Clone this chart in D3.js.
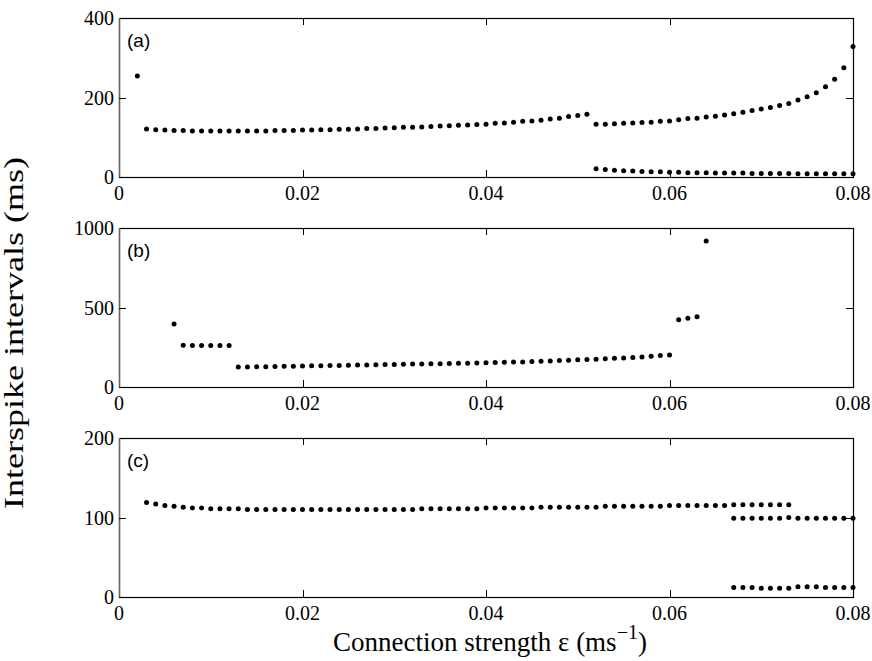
<!DOCTYPE html>
<html>
<head>
<meta charset="utf-8">
<script src="https://cdn.jsdelivr.net/npm/d3@7"></script>
<style>
  body { margin: 0; background: #fff; }
  svg { display: block; }
  .tick-label { font-family: "Liberation Serif", "Times New Roman", serif; font-size: 20px; fill: #000; }
  .axis-title { font-family: "Liberation Serif", "Times New Roman", serif; font-size: 27px; fill: #000; }
  .panel-tag { font-family: "Liberation Sans", Arial, sans-serif; font-size: 19px; fill: #000; }
</style>
</head>
<body>
<svg width="872" height="661"></svg>
<script>
"use strict";

// ---- data (eps in ms^-1, isi in ms) ----

// panel (a)
const aEps0 = [0.002];
const aIsi0 = [254];
const aEps1 = [0.003, 0.004, 0.005, 0.006, 0.007, 0.008, 0.009, 0.010, 0.011, 0.012, 0.013, 0.014, 0.015, 0.016,
  0.017, 0.018, 0.019, 0.020, 0.021, 0.022, 0.023, 0.024, 0.025, 0.026, 0.027, 0.028, 0.029, 0.030, 0.031, 0.032,
  0.033, 0.034, 0.035, 0.036, 0.037, 0.038, 0.039, 0.040, 0.041, 0.042, 0.043, 0.044, 0.045, 0.046, 0.047, 0.048,
  0.049, 0.050, 0.051];
const aIsi1 = [121, 119, 118, 117, 117, 116, 116, 116, 116, 116, 116, 116, 116, 116,
  117, 117, 117, 118, 118, 119, 119, 120, 120, 121, 122, 122, 123, 124, 125, 125,
  126, 127, 128, 129, 130, 131, 132, 133, 135, 136, 138, 140, 141, 143, 146, 148,
  152, 155, 158];
const aEps2 = [0.052, 0.053, 0.054, 0.055, 0.056, 0.057, 0.058, 0.059, 0.060, 0.061, 0.062, 0.063, 0.064, 0.065,
  0.066, 0.067, 0.068, 0.069, 0.070, 0.071, 0.072, 0.073, 0.074, 0.075, 0.076, 0.077, 0.078, 0.079, 0.080];
const aIsi2 = [133, 133, 134, 135, 136, 137, 138, 140, 141, 144, 147, 148, 151, 153,
  156, 159, 163, 167, 171, 175, 180, 185, 194, 202, 212, 227, 246, 275, 328];
const aIsi3 = [21, 19, 17, 16, 15, 14, 13, 13, 12, 12, 11, 11, 11, 10,
  10, 10, 10, 9, 9, 9, 9, 9, 8, 8, 8, 8, 8, 8, 8];

// panel (b)
const bEps0 = [0.006];
const bIsi0 = [396];
const bEps1 = [0.007, 0.008, 0.009, 0.010, 0.011, 0.012];
const bIsi1 = [262, 261, 261, 261, 261, 261];
const bEps2 = [0.013, 0.014, 0.015, 0.016, 0.017, 0.018, 0.019, 0.020, 0.021, 0.022, 0.023, 0.024, 0.025, 0.026,
  0.027, 0.028, 0.029, 0.030, 0.031, 0.032, 0.033, 0.034, 0.035, 0.036, 0.037, 0.038, 0.039, 0.040, 0.041, 0.042,
  0.043, 0.044, 0.045, 0.046, 0.047, 0.048, 0.049, 0.050, 0.051, 0.052, 0.053, 0.054, 0.055, 0.056, 0.057, 0.058,
  0.059, 0.060];
const bIsi2 = [126, 126, 127, 128, 129, 130, 131, 132, 133, 134, 135, 136, 137, 138,
  139, 140, 141, 142, 143, 144, 145, 146, 147, 148, 149, 150, 151, 152, 154, 156,
  158, 158, 160, 162, 164, 166, 168, 171, 173, 175, 177, 181, 183, 185, 189, 194,
  198, 202];
const bEps3 = [0.061, 0.062, 0.063];
const bIsi3 = [423, 432, 442];
const bEps4 = [0.064];
const bIsi4 = [918];

// panel (c)
const cEps1 = [0.003, 0.004, 0.005, 0.006, 0.007, 0.008, 0.009, 0.010, 0.011, 0.012, 0.013, 0.014, 0.015, 0.016,
  0.017, 0.018, 0.019, 0.020, 0.021, 0.022, 0.023, 0.024, 0.025, 0.026, 0.027, 0.028, 0.029, 0.030, 0.031, 0.032,
  0.033, 0.034, 0.035, 0.036, 0.037, 0.038, 0.039, 0.040, 0.041, 0.042, 0.043, 0.044, 0.045, 0.046, 0.047, 0.048,
  0.049, 0.050, 0.051, 0.052, 0.053, 0.054, 0.055, 0.056, 0.057, 0.058, 0.059, 0.060, 0.061, 0.062, 0.063, 0.064,
  0.065, 0.066, 0.067, 0.068, 0.069, 0.070, 0.071, 0.072, 0.073];
const cIsi1 = [119, 117, 115, 114, 113, 112, 112, 111, 111, 111, 111, 110, 110, 110,
  110, 110, 110, 110, 110, 110, 110, 110, 110, 110, 110, 110, 110, 110, 110, 110,
  111, 111, 111, 111, 111, 111, 111, 112, 112, 112, 112, 112, 112, 113, 113, 113,
  113, 113, 113, 113, 114, 114, 114, 114, 114, 114, 114, 115, 115, 115, 115, 115,
  115, 115, 116, 116, 116, 116, 116, 116, 116];
const cEps2 = [0.067, 0.068, 0.069, 0.070, 0.071, 0.072, 0.073, 0.074, 0.075, 0.076, 0.077, 0.078, 0.079, 0.080];
const cIsi2 = [99, 99, 99, 99, 99, 99, 100, 99, 99, 99, 99, 99, 99, 99];
const cIsi3 = [12, 12, 12, 11, 11, 11, 11, 13, 13, 13, 12, 12, 12, 12];

const xTicks = [0, 0.02, 0.04, 0.06, 0.08];
const xTickLabels = ["0", "0.02", "0.04", "0.06", "0.08"];

const zip = (xs, ys) => xs.map((x, i) => ({eps: x, isi: ys[i]}));

const panels = [
  {tag: "(a)", top: 18, yMax: 400, yTicks: [0, 200, 400],
   points: [].concat(zip(aEps0, aIsi0), zip(aEps1, aIsi1), zip(aEps2, aIsi2), zip(aEps2, aIsi3))},
  {tag: "(b)", top: 228, yMax: 1000, yTicks: [0, 500, 1000],
   points: [].concat(zip(bEps0, bIsi0), zip(bEps1, bIsi1), zip(bEps2, bIsi2), zip(bEps3, bIsi3), zip(bEps4, bIsi4))},
  {tag: "(c)", top: 438, yMax: 200, yTicks: [0, 100, 200],
   points: [].concat(zip(cEps1, cIsi1), zip(cEps2, cIsi2), zip(cEps2, cIsi3))}
];

const Plot = {LEFT: 119, RIGHT: 853, HEIGHT: 159};
const TICK = 7;

const svg = d3.select("svg");

const x = d3.scaleLinear().domain([0, 0.08]).range([Plot.LEFT, Plot.RIGHT]);

panels.forEach(p => {
  const bottom = p.top + Plot.HEIGHT;
  const y = d3.scaleLinear().domain([0, p.yMax]).range([bottom, p.top]);
  const g = svg.append("g");

  // frame: left edge drawn lighter, like the original
  g.append("rect")
    .attr("x", Plot.LEFT + 0.5).attr("y", p.top + 0.5)
    .attr("width", Plot.RIGHT - Plot.LEFT).attr("height", Plot.HEIGHT)
    .attr("fill", "none").attr("stroke", "#000").attr("stroke-width", 1.2);
  g.append("line")
    .attr("x1", Plot.LEFT + 0.5).attr("x2", Plot.LEFT + 0.5)
    .attr("y1", p.top).attr("y2", bottom)
    .attr("stroke", "#666").attr("stroke-width", 1.4);

  // inner ticks top/bottom
  const xt = xTicks.slice(1, -1);
  g.selectAll(".xtb").data(xt).enter().append("line")
    .attr("x1", d => Math.round(x(d)) + 0.5).attr("x2", d => Math.round(x(d)) + 0.5)
    .attr("y1", bottom).attr("y2", bottom - TICK)
    .attr("stroke", "#000");
  g.selectAll(".xtt").data(xt).enter().append("line")
    .attr("x1", d => Math.round(x(d)) + 0.5).attr("x2", d => Math.round(x(d)) + 0.5)
    .attr("y1", p.top).attr("y2", p.top + TICK)
    .attr("stroke", "#000");

  // inner ticks left/right
  const yt = p.yTicks.slice(1, -1);
  g.selectAll(".ytl").data(yt).enter().append("line")
    .attr("x1", Plot.LEFT).attr("x2", Plot.LEFT + TICK)
    .attr("y1", d => Math.round(y(d)) + 0.5).attr("y2", d => Math.round(y(d)) + 0.5)
    .attr("stroke", "#000");
  g.selectAll(".ytr").data(yt).enter().append("line")
    .attr("x1", Plot.RIGHT).attr("x2", Plot.RIGHT - TICK)
    .attr("y1", d => Math.round(y(d)) + 0.5).attr("y2", d => Math.round(y(d)) + 0.5)
    .attr("stroke", "#000");

  // y tick labels
  g.selectAll(".ylab").data(p.yTicks).enter().append("text")
    .attr("class", "tick-label")
    .attr("x", Plot.LEFT - 5)
    .attr("y", d => y(d) + 7)
    .attr("text-anchor", "end")
    .text(d => d);

  // x tick labels
  g.selectAll(".xlab").data(xTicks).enter().append("text")
    .attr("class", "tick-label")
    .attr("x", d => x(d))
    .attr("y", bottom + 23)
    .attr("text-anchor", "middle")
    .text((d, i) => xTickLabels[i]);

  // panel tag
  g.append("text")
    .attr("class", "panel-tag")
    .attr("x", Plot.LEFT + 8)
    .attr("y", p.top + 29)
    .text(p.tag);

  // data dots
  g.selectAll("circle").data(p.points).enter().append("circle")
    .attr("cx", d => x(d.eps))
    .attr("cy", d => y(d.isi))
    .attr("r", 2.5)
    .attr("fill", "#000");
});

// axis titles
svg.append("text")
  .attr("class", "axis-title")
  .attr("font-size", 25)
  .attr("transform", `translate(23, 333) rotate(-90)`)
  .attr("text-anchor", "middle")
  .attr("textLength", 352)
  .attr("lengthAdjust", "spacingAndGlyphs")
  .text("Interspike intervals (ms)");

const xt = svg.append("text")
  .attr("class", "axis-title")
  .attr("x", 490)
  .attr("y", 651)
  .attr("text-anchor", "middle");
xt.append("tspan").text("Connection strength \u03b5 (ms");
xt.append("tspan").attr("dy", -12).attr("font-size", 20).text("\u22121");
xt.append("tspan").attr("dy", 12).text(")");
</script>
</body>
</html>
